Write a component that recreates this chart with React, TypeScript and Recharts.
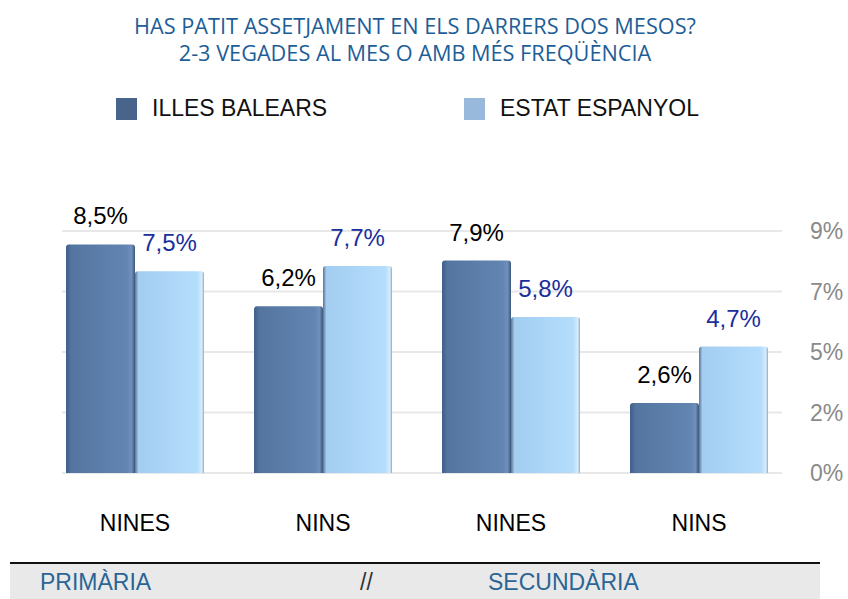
import { BarChart, Bar, XAxis, YAxis, CartesianGrid, LabelList, Legend } from 'recharts';

const categories = ['NINES', 'NINS', 'NINES', 'NINS'];
const illesBalears = [8.5, 6.2, 7.9, 2.6];
const estatEspanyol = [7.5, 7.7, 5.8, 4.7];
const yTicks = [0, 2.25, 4.5, 6.75, 9];
const titleLines = ['HAS PATIT ASSETJAMENT EN ELS DARRERS DOS MESOS?', '2-3 VEGADES AL MES O AMB MÉS FREQÜÈNCIA'];
const stageLabels = ['PRIMÀRIA', '//', 'SECUNDÀRIA'];

const data = categories.map((name, i) => ({
  name,
  ib: illesBalears[i],
  ee: estatEspanyol[i],
}));

const legendOrder = ['ib', 'ee'];
const legendColors: Record<string, string> = { ib: '#48648a', ee: '#98b9dc' };
const font = '"Liberation Sans", Arial, sans-serif';

const pct = (v: any) => `${Number(v).toFixed(1).replace('.', ',')}%`;

function LegendContent({ payload }: any) {
  const items = [...(payload || [])].sort(
    (a: any, b: any) => legendOrder.indexOf(a.dataKey) - legendOrder.indexOf(b.dataKey)
  );
  return (
    <div style={{ display: 'flex', fontFamily: font }}>
      {items.map((p: any) => (
        <div key={p.dataKey} style={{ display: 'flex', alignItems: 'center', width: 348 }}>
          <span style={{ width: 21, height: 22, background: legendColors[p.dataKey], marginRight: 15 }} />
          <span style={{ fontSize: 23, color: '#111' }}>{p.value}</span>
        </div>
      ))}
    </div>
  );
}

export default function App() {
  return (
    <div style={{ position: 'absolute', left: 0, top: 0, width: 848, height: 599, background: '#fff', fontFamily: font }}>
      <div
        style={{
          position: 'absolute',
          top: 12,
          left: 0,
          width: 830,
          textAlign: 'center',
          color: '#1d5e97',
          fontFamily: '"Open Sans", sans-serif',
          fontSize: 21.7,
          lineHeight: '27px',
        }}
      >
        {titleLines.map((t) => (
          <div key={t}>{t}</div>
        ))}
      </div>

      <BarChart
        width={848}
        height={599}
        data={data}
        margin={{ top: 231, right: 0, bottom: 0, left: 41 }}
        barGap={0}
        barSize={69}
        style={{ fontFamily: font }}
      >
        <defs>
          <linearGradient id="ibGrad" x1="0" y1="0" x2="1" y2="0">
            <stop offset="0%" stopColor="#3f5f8a" />
            <stop offset="8%" stopColor="#5375a0" />
            <stop offset="88%" stopColor="#6385b1" />
            <stop offset="95%" stopColor="#6f90bb" />
            <stop offset="100%" stopColor="#3b5679" />
          </linearGradient>
          <linearGradient id="eeGrad" x1="0" y1="0" x2="1" y2="0">
            <stop offset="0%" stopColor="#5c7590" />
            <stop offset="5%" stopColor="#a3cdf1" />
            <stop offset="90%" stopColor="#b4ddfc" />
            <stop offset="97%" stopColor="#d8ecfd" />
            <stop offset="100%" stopColor="#8ea9c2" />
          </linearGradient>
        </defs>
        <CartesianGrid horizontal vertical={false} stroke="#e8e8e8" strokeWidth={2} x={62} width={720} />
        <XAxis
          dataKey="name"
          axisLine={false}
          tickLine={false}
          tickSize={0}
          tickMargin={42}
          height={126}
          tick={{ fill: '#000', fontSize: 23 }}
        />
        <YAxis
          orientation="right"
          domain={[0, 9]}
          ticks={yTicks}
          tickFormatter={(v: number) => `${Math.round(v)}%`}
          axisLine={false}
          tickLine={false}
          tickSize={0}
          tickMargin={17}
          width={55}
          tick={{ fill: '#8a8a8a', fontSize: 23 }}
        />
        <Legend
          layout="horizontal"
          verticalAlign="middle"
          align="center"
          content={<LegendContent />}
          wrapperStyle={{ top: 95, left: 116, width: 700 }}
        />
        <Bar dataKey="ib" name="ILLES BALEARS" fill="url(#ibGrad)" radius={[3, 3, 0, 0]} isAnimationActive={false}>
          <LabelList dataKey="ib" position="top" offset={20} formatter={pct} fill="#000" fontSize={24} />
        </Bar>
        <Bar dataKey="ee" name="ESTAT ESPANYOL" fill="url(#eeGrad)" radius={[3, 3, 0, 0]} isAnimationActive={false}>
          <LabelList dataKey="ee" position="top" offset={20} formatter={pct} fill="#1a2e9c" fontSize={24} />
        </Bar>
      </BarChart>

      <div style={{ position: 'absolute', left: 10, top: 562, width: 810, height: 37, background: '#e9e9e9', borderTop: '2px solid #111' }}>
        <span style={{ position: 'absolute', left: 30, top: 5, fontSize: 23, color: '#2a6596' }}>{stageLabels[0]}</span>
        <span style={{ position: 'absolute', left: 350, top: 5, fontSize: 23, color: '#333' }}>{stageLabels[1]}</span>
        <span style={{ position: 'absolute', left: 478, top: 5, fontSize: 23, color: '#2a6596' }}>{stageLabels[2]}</span>
      </div>
    </div>
  );
}
